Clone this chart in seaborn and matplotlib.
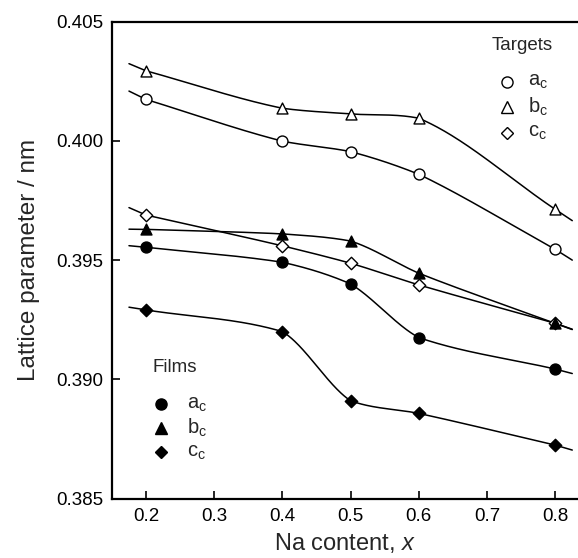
import numpy as np
import matplotlib
matplotlib.use("Agg")
import matplotlib.pyplot as plt
import seaborn as sns

# ---- data ----
na_x = [0.2, 0.4, 0.5, 0.6, 0.8]
target_a = [0.40174, 0.39999, 0.39955, 0.39860, 0.39545]
target_b = [0.40294, 0.40137, 0.40113, 0.40095, 0.39713]
target_c = [0.39689, 0.39560, 0.39487, 0.39396, 0.39235]
film_a = [0.39554, 0.39491, 0.39400, 0.39175, 0.39043]
film_b = [0.39629, 0.39610, 0.39580, 0.39445, 0.39235]
film_c = [0.39291, 0.39200, 0.38910, 0.38857, 0.38724]
left_ext_slope = [-0.0140, -0.0120, -0.0125, -0.0026, -0.0003, -0.0046]
right_ext_slope = [-0.0180, -0.0190, -0.0100, -0.0075, -0.0105, -0.0083]
labels = [r"$\mathregular{a_c}$", r"$\mathregular{b_c}$", r"$\mathregular{c_c}$"]
x_ticks = [0.2, 0.3, 0.4, 0.5, 0.6, 0.7, 0.8]
y_ticks = [0.385, 0.390, 0.395, 0.400, 0.405]


def smooth_curve(x, y, sl, sr, x0=0.175, x1=0.825, n=400, alpha=0.35):
    x = np.asarray(x, float)
    y = np.asarray(y, float)
    h = np.diff(x)
    dl = np.diff(y) / h
    m = len(x)
    d_in = np.zeros(m)   # slope arriving at point k
    d_out = np.zeros(m)  # slope leaving point k
    for k in range(1, m - 1):
        cen = (y[k + 1] - y[k - 1]) / (x[k + 1] - x[k - 1])
        if dl[k - 1] * dl[k] > 0:
            w1 = 2 * h[k] + h[k - 1]
            w2 = h[k] + 2 * h[k - 1]
            pc = (w1 + w2) / (w1 / dl[k - 1] + w2 / dl[k])
        else:
            pc = 0.0
        avg = 0.5 * (pc + cen)
        d_in[k] = avg + alpha * (dl[k - 1] - avg)
        d_out[k] = avg + alpha * (dl[k] - avg)
    d_out[0] = dl[0]
    d_in[-1] = dl[-1]
    xs = np.linspace(x[0], x[-1], n)
    k = np.clip(np.searchsorted(x, xs) - 1, 0, m - 2)
    hk = h[k]
    s = (xs - x[k]) / hk
    h00 = 2 * s**3 - 3 * s**2 + 1
    h10 = s**3 - 2 * s**2 + s
    h01 = -2 * s**3 + 3 * s**2
    h11 = s**3 - s**2
    ys = (h00 * y[k] + h10 * hk * d_out[k] + h01 * y[k + 1]
          + h11 * hk * d_in[k + 1])
    xl = np.linspace(x0, x[0], 10)
    xr = np.linspace(x[-1], x1, 10)
    yl = y[0] + sl * (xl - x[0])
    yr = y[-1] + sr * (xr - x[-1])
    return (np.concatenate([xl, xs[1:-1], xr]),
            np.concatenate([yl, ys[1:-1], yr]))


sns.set_style("ticks")
plt.rcParams["font.family"] = ["Liberation Sans", "DejaVu Sans"]
plt.rcParams["mathtext.fontset"] = "custom"
plt.rcParams["mathtext.rm"] = "Liberation Sans"
plt.rcParams["mathtext.it"] = "Liberation Sans:italic"

fig = plt.figure(figsize=(5.78, 5.58), dpi=100)
ax = fig.add_axes([0.1933, 0.1066, 0.8067, 0.8545])

series = [
    (target_a, "o", "white"),
    (target_b, "^", "white"),
    (target_c, "D", "white"),
    (film_a, "o", "black"),
    (film_b, "^", "black"),
    (film_c, "D", "black"),
]
sizes = {"o": 62, "^": 62, "D": 40}
for i, (vals, mk, fc) in enumerate(series):
    cx, cy = smooth_curve(na_x, vals, left_ext_slope[i], right_ext_slope[i])
    sns.lineplot(x=cx, y=cy, ax=ax, color="black", lw=1.1, zorder=2,
                 sort=False, estimator=None)
for vals, mk, fc in series:
    sns.scatterplot(x=na_x, y=vals, ax=ax, marker=mk, s=sizes[mk], color=fc,
                    edgecolor="black", linewidth=1.0, zorder=3)

ax.set_xlim(0.1497, 0.8334)
ax.set_ylim(0.385, 0.405)
ax.set_xticks(x_ticks)
ax.set_xticklabels([f"{v:.1f}" for v in x_ticks])
ax.set_yticks(y_ticks)
ax.set_yticklabels([f"{v:.3f}" for v in y_ticks])
ax.tick_params(direction="in", length=6, width=1.2, labelsize=13.5,
               colors="black", pad=6)
ax.tick_params(axis="x", pad=7)
for sp in ["left", "bottom", "top"]:
    ax.spines[sp].set_linewidth(1.6)
    ax.spines[sp].set_color("black")
ax.spines["right"].set_visible(False)

ax.set_xlabel(r"Na content, $\mathit{x}$", fontsize=17, labelpad=4)
ax.set_ylabel("Lattice parameter / nm", fontsize=17.5, labelpad=12)

# ---- hand-placed legends (axes fraction) ----
def legend_block(title, tx, ty, mx, lx, rows, fc):
    ax.text(tx, ty, title, transform=ax.transAxes, ha="center", va="center",
            fontsize=13.5)
    for (mk, ms), lab, ry in zip((("o", 8), ("^", 8), ("D", 6.5)), labels, rows):
        ax.plot([mx], [ry], ls="", marker=mk, ms=ms, mfc=fc, mec="black",
                mew=1.0, transform=ax.transAxes, clip_on=False)
        ax.text(lx, ry, lab, transform=ax.transAxes, ha="left", va="center",
                fontsize=14.5)

legend_block("Targets", 0.880, 0.950, 0.8477, 0.8917,
             [0.8736, 0.8205, 0.7672], "white")
legend_block("Films", 0.1357, 0.2758, 0.1057, 0.1615,
             [0.1982, 0.1479, 0.0975], "black")

fig.savefig("out.png", dpi=100)
